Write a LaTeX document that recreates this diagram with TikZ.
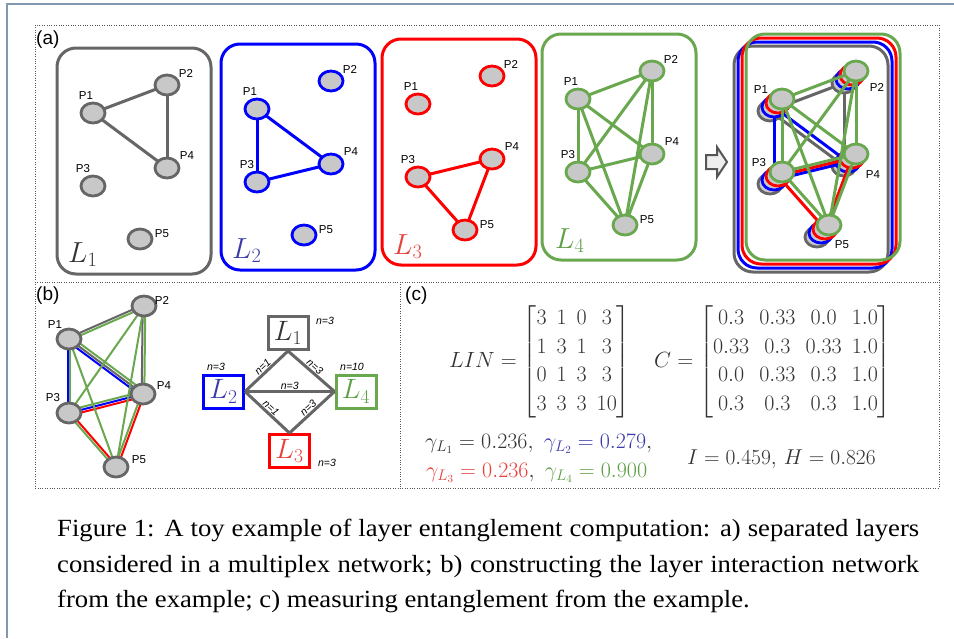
\RequirePackage{fix-cm}
\documentclass[tikz,border=0pt]{standalone}
\usepackage{amsmath}
\usepackage{fontspec}
\setsansfont{Liberation Sans}
\newfontfamily\capfont[FakeStretch=1.08]{Liberation Serif}
\usetikzlibrary{shapes.geometric,calc}
\definecolor{lgray}{HTML}{666666}
\definecolor{lblue}{HTML}{0000FF}
\definecolor{lred}{HTML}{FF0000}
\definecolor{lgreen}{HTML}{6AA84F}
\definecolor{nfill}{HTML}{C8C8C8}
\definecolor{tgray}{HTML}{333333}
\definecolor{tblue}{HTML}{3B3BA8}
\definecolor{tred}{HTML}{E8403A}
\definecolor{tgreen}{HTML}{5E9E45}
\definecolor{frameblue}{HTML}{8298B0}
\definecolor{dotgray}{HTML}{555555}
\definecolor{arrowfill}{HTML}{EEEEEE}
\definecolor{arrowdraw}{HTML}{555555}
\tikzset{
  pnode/.style={ellipse, draw=#1, fill=nfill, line width=2.8pt, minimum width=24pt, minimum height=20pt, inner sep=0pt},
  plabel/.style={font=\sffamily\fontsize{11.5}{13}\selectfont, inner sep=0pt, text=black},
  layerbox/.style={draw=#1, line width=3pt, rounded corners=19pt},
  ledge/.style={draw=#1, line width=3pt},
  bedge/.style={draw=#1, line width=2pt},
  laytext/.style={font=\fontsize{29}{30}\selectfont, inner sep=0pt, anchor=base west},
  lbox/.style={draw=#1, line width=3pt, minimum width=40pt, minimum height=33pt, inner sep=0pt, font=\fontsize{28}{29}\selectfont},
  linedge/.style={draw=lgray, line width=3pt},
  nlabel/.style={font=\sffamily\itshape\fontsize{10.5}{12}\selectfont, inner sep=0.5pt, text=black},
  panellabel/.style={font=\sffamily\fontsize{19}{22}\selectfont, inner sep=0pt, anchor=west},
  dotframe/.style={draw=dotgray, line width=0.8pt, dash pattern=on 0.8pt off 1.6pt},
  mathtext/.style={font=\fontsize{22}{28.5}\selectfont, inner sep=0pt, text=tgray},
  captext/.style={font=\capfont\fontsize{24.7}{35.7}\selectfont, inner sep=0pt, anchor=base west}
}
\newcommand{\drawlayer}[5]{%
  \begin{scope}[shift={(#2,#3)}]
    \draw[layerbox=#4] (57,48) rectangle (211,274);
    \coordinate (#1p1) at (93,113);
    \coordinate (#1p2) at (167,85);
    \coordinate (#1p3) at (93,186);
    \coordinate (#1p4) at (167,168);
    \coordinate (#1p5) at (140,239);
    \foreach \a/\b in {#5} {\draw[ledge=#4] (#1p\a) -- (#1p\b);}
    \foreach \i in {1,...,5} {\node[pnode=#4] (#1n\i) at (#1p\i) {};}
  \end{scope}}
\newcommand{\seplabels}[1]{%
  \foreach \i/\dx/\dy in {1/-7/-17,2/19/-12,3/-10/-17,4/20/-12,5/22/-5}
    {\node[plabel] (#1l\i) at ($(#1p\i)+(\dx,\dy)$) {P\i};}}
\newcommand{\pedge}[4]{\draw[bedge=#3] ($(#1)!#4!90:(#2)$) -- ($(#2)!#4!-90:(#1)$);}
\begin{document}
\begin{tikzpicture}[x=1pt,y=-1pt]
\useasboundingbox[fill=white] (0,0) rectangle (954,638);
% outer frame
\draw[frameblue, line width=1.3pt] (7,638) -- (7,4) -- (954,4);
% dotted panel frames
\draw[dotframe] (35,25) rectangle (939,488);
\draw[dotframe] (35,282) -- (939,282);
\draw[dotframe] (400,282) -- (400,488);
\node[panellabel] (la) at (36,40) {(a)};
\node[panellabel] (lb) at (36,296) {(b)};
\node[panellabel] (lc) at (405,296) {(c)};

% ---------- panel (a): separated layers
\drawlayer{a}{0}{0}{lgray}{1/2,1/4,2/4}
\seplabels{a}
\node[laytext, text=tgray] (t1) at (68,262) {$L_1$};
\drawlayer{b}{164}{-4}{lblue}{1/3,1/4,3/4}
\seplabels{b}
\node[laytext, text=tblue] (t2) at (232,258) {$L_2$};
\drawlayer{c}{325}{-9}{lred}{3/4,3/5,4/5}
\seplabels{c}
\node[laytext, text=tred] (t3) at (393,254) {$L_3$};
\drawlayer{d}{485}{-14}{lgreen}{1/2,1/3,1/4,1/5,2/3,2/4,2/5,3/4,3/5,4/5}
\seplabels{d}
\node[laytext, text=tgreen] (t4) at (555,248) {$L_4$};

% block arrow
\draw[fill=arrowfill, draw=arrowdraw, line width=2pt, line join=miter]
  (706,155) -- (717,155) -- (717,147) -- (727,162) -- (717,177) -- (717,169) -- (706,169) -- cycle;

% stacked multiplex
\drawlayer{sa}{677}{-2}{lgray}{1/2,1/4,2/4}
\drawlayer{sb}{681}{-6}{lblue}{1/3,1/4,3/4}
\drawlayer{sc}{685}{-10}{lred}{3/4,3/5,4/5}
\drawlayer{sd}{689}{-14}{lgreen}{1/2,1/3,1/4,1/5,2/3,2/4,2/5,3/4,3/5,4/5}
\node[plabel] (sl1) at ($(sdp1)+(-21,-9)$) {P1};
\node[plabel] (sl2) at ($(sdp2)+(21,16)$) {P2};
\node[plabel] (sl3) at ($(sdp3)+(-23,-9)$) {P3};
\node[plabel] (sl4) at ($(sdp4)+(17,21)$) {P4};
\node[plabel] (sl5) at ($(sdp5)+(13,20)$) {P5};

% ---------- panel (b): aggregated graph
\coordinate (bP1) at (69,339);
\coordinate (bP2) at (144,306);
\coordinate (bP3) at (69,413);
\coordinate (bP4) at (143,394);
\coordinate (bP5) at (116,467);
\pedge{bP1}{bP2}{lgray}{1.3pt}
\pedge{bP1}{bP2}{lgreen}{-1.3pt}
\pedge{bP2}{bP4}{lgray}{-1.3pt}
\pedge{bP2}{bP4}{lgreen}{1.3pt}
\pedge{bP1}{bP4}{lblue}{-2.6pt}
\pedge{bP1}{bP4}{lgray}{0pt}
\pedge{bP1}{bP4}{lgreen}{3pt}
\pedge{bP1}{bP3}{lblue}{-1.3pt}
\pedge{bP1}{bP3}{lgreen}{1.3pt}
\pedge{bP3}{bP4}{lgreen}{2.6pt}
\pedge{bP3}{bP4}{lblue}{0pt}
\pedge{bP3}{bP4}{lred}{-2.6pt}
\pedge{bP3}{bP5}{lred}{1.3pt}
\pedge{bP3}{bP5}{lgreen}{-1.3pt}
\pedge{bP4}{bP5}{lred}{1.3pt}
\pedge{bP4}{bP5}{lgreen}{-1.3pt}
\draw[bedge=lgreen] (bP1) -- (bP5);
\draw[bedge=lgreen] (bP2) -- (bP3);
\draw[bedge=lgreen] (bP2) -- (bP5);
\foreach \i in {1,...,5} {\node[pnode=lgray] (bn\i) at (bP\i) {};}
\node[plabel] (bl1) at ($(bP1)+(-14,-14)$) {P1};
\node[plabel] (bl2) at ($(bP2)+(18,-6)$) {P2};
\node[plabel] (bl3) at ($(bP3)+(-16,-15)$) {P3};
\node[plabel] (bl4) at ($(bP4)+(21,-8)$) {P4};
\node[plabel] (bl5) at ($(bP5)+(23,-7)$) {P5};

% layer interaction network
\node[lbox=lgray, text=tgray] (B1) at (288,333) {$L_1$};
\node[lbox=lblue, text=tblue] (B2) at (223.5,391.5) {$L_2$};
\node[lbox=lgreen, text=tgreen] (B4) at (356,391.5) {$L_4$};
\node[lbox=lred, text=tred] (B3) at (289.5,451) {$L_3$};
\draw[linedge] (B2.east) -- node[nlabel, sloped, above] (e12) {n=1} (B1.south);
\draw[linedge] (B1.south) -- node[nlabel, sloped, above] (e14) {n=3} (B4.west);
\draw[linedge] (B2.east) -- node[nlabel, above] (e24) {n=3} (B4.west);
\draw[linedge] (B2.east) -- node[nlabel, sloped, above] (e23) {n=1} (B3.north);
\draw[linedge] (B3.north) -- node[nlabel, sloped, above] (e34) {n=3} (B4.west);
\node[nlabel] (n1) at (325,321) {n=3};
\node[nlabel] (n2) at (216,367) {n=3};
\node[nlabel] (n4) at (352,367) {n=10};
\node[nlabel] (n3) at (327,463) {n=3};

% ---------- panel (c)
\node[mathtext, anchor=east] (lin) at (631,362)
  {$\setlength{\arraycolsep}{5pt}LIN = \begin{bmatrix} 3 & 1 & 0 & 3\\ 1 & 3 & 1 & 3\\ 0 & 1 & 3 & 3\\ 3 & 3 & 3 & 10\end{bmatrix}$};
\node[mathtext, anchor=east] (cm) at (892,362)
  {$\setlength{\arraycolsep}{5pt}C = \begin{bmatrix} 0.3 & 0.33 & 0.0 & 1.0\\ 0.33 & 0.3 & 0.33 & 1.0\\ 0.0 & 0.33 & 0.3 & 1.0\\ 0.3 & 0.3 & 0.3 & 1.0\end{bmatrix}$};
\node[mathtext, anchor=base west] (g1) at (425,448)
  {$\gamma_{L_1} = 0.236,\ \textcolor{tblue}{\gamma_{L_2} = 0.279},$};
\node[mathtext, anchor=base west] (g2) at (426,477)
  {$\textcolor{tred}{\gamma_{L_3} = 0.236},\ \textcolor{tgreen}{\gamma_{L_4} = 0.900}$};
\node[mathtext, anchor=base west, font=\fontsize{21.5}{28}\selectfont] (ih) at (687,464) {$I = 0.459,\, H = 0.826$};

% ---------- caption
\node[captext] (cap1) at (57,536) {\makebox[862pt][s]{Figure 1: A toy example of layer entanglement computation: a) separated layers}};
\node[captext] (cap2) at (57,572) {\makebox[862pt][s]{considered in a multiplex network; b) constructing the layer interaction network}};
\node[captext] (cap3) at (57,607) {from the example; c) measuring entanglement from the example.};
\end{tikzpicture}
\end{document}
